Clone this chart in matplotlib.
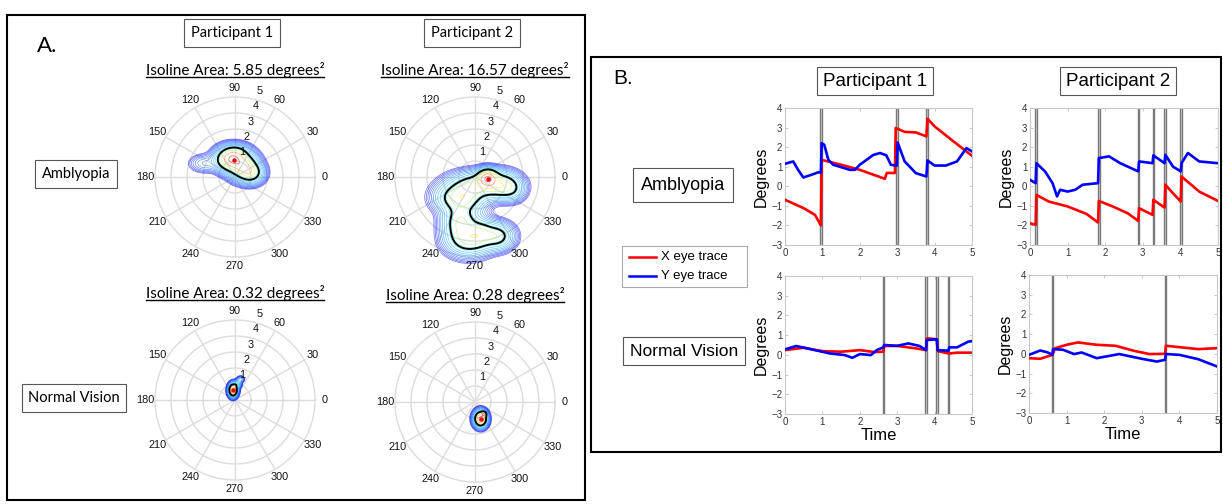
import numpy as np
import matplotlib
matplotlib.use('Agg')
import matplotlib.pyplot as plt
from matplotlib.patches import Rectangle
from matplotlib.lines import Line2D

# ---------------- data: panel A (gaze density blobs, degrees) ----------------
amb1_bx = [-0.3, 0.5, 1.0, 0.1, -1.9]
amb1_by = [1.1, 0.7, 0.25, 1.5, 0.85]
amb1_sx = [0.5, 0.5, 0.42, 0.45, 0.5]
amb1_sy = [0.4, 0.45, 0.35, 0.3, 0.3]
amb1_w = [1.0, 0.8, 0.5, 0.3, 0.08]

amb2_bx = [0.8, 0.3, -0.9, 1.7, 2.3, -0.9, -0.4, 1.4, 0.4]
amb2_by = [-0.05, -0.5, -1.3, -0.5, -0.8, -2.8, -3.9, -3.7, -3.5]
amb2_sx = [0.35, 1.0, 0.8, 0.6, 0.45, 0.6, 0.75, 0.55, 0.5]
amb2_sy = [0.3, 0.45, 0.5, 0.45, 0.4, 0.65, 0.55, 0.45, 0.5]
amb2_w = [1.0, 0.5, 0.55, 0.4, 0.15, 0.45, 0.45, 0.38, 0.3]

nor1_bx = [-0.12, 0.15, 0.35]
nor1_by = [0.62, 1.0, 1.3]
nor1_sx = [0.15, 0.13, 0.12]
nor1_sy = [0.22, 0.13, 0.1]
nor1_w = [1.0, 0.2, 0.1]

nor2_bx = [0.35, 0.55]
nor2_by = [-1.05, -0.75]
nor2_sx = [0.22, 0.1]
nor2_sy = [0.27, 0.1]
nor2_w = [1.0, 0.6]

area_titles = ["Isoline Area: 5.85 degrees\u00b2", "Isoline Area: 16.57 degrees\u00b2",
               "Isoline Area: 0.32 degrees\u00b2", "Isoline Area: 0.28 degrees\u00b2"]
angle_labels = list(range(0, 360, 30))
radial_labels = [1, 2, 3, 4, 5]

# ---------------- data: panel B (eye traces) ----------------
a1_tx = [0, 0.5, 0.8, 0.96, 0.98, 1.5, 2.0, 2.5, 2.67, 2.72, 2.94, 2.96, 3.2, 3.5, 3.78, 3.81, 4.0, 4.5, 5.0]
a1_vx = [-0.69, -1.12, -1.46, -2.0, 1.35, 1.1, 0.84, 0.5, 0.38, 0.68, 0.68, 2.98, 2.78, 2.75, 2.55, 3.45, 3.06, 2.3, 1.56]
a1_ty = [0, 0.22, 0.35, 0.49, 0.71, 0.9, 0.96, 0.98, 1.05, 1.16, 1.29, 1.73, 1.87, 2.0, 2.36, 2.54, 2.71, 2.83, 2.99, 3.01, 3.2, 3.5, 3.78, 3.81, 4.0, 4.3, 4.6, 4.85, 5.0]
a1_vy = [1.15, 1.27, 0.84, 0.45, 0.59, 0.72, 0.7, 2.2, 2.12, 1.35, 1.1, 0.84, 0.84, 1.1, 1.6, 1.7, 1.58, 1.1, 1.05, 2.24, 1.27, 0.67, 0.5, 1.32, 1.06, 1.06, 1.27, 1.95, 1.78]

a2_tx = [0, 0.15, 0.17, 0.5, 1.0, 1.5, 1.81, 1.83, 2.2, 2.6, 2.88, 2.9, 3.26, 3.28, 3.58, 3.6, 3.8, 4.01, 4.03, 4.5, 5.0]
a2_vx = [-1.89, -1.97, -0.44, -0.78, -1.03, -1.41, -1.85, -0.75, -1.03, -1.38, -1.77, -1.12, -1.46, -0.69, -1.09, 0.08, -0.35, -0.78, 0.5, -0.27, -0.75]
a2_ty = [0, 0.15, 0.17, 0.4, 0.6, 0.72, 0.8, 1.0, 1.2, 1.4, 1.81, 1.83, 2.1, 2.4, 2.88, 2.9, 3.26, 3.28, 3.58, 3.6, 3.8, 4.01, 4.03, 4.2, 4.5, 5.0]
a2_vy = [0.33, 0.16, 1.18, 0.76, 0.16, -0.52, -0.18, -0.27, -0.18, 0.08, 0.16, 1.44, 1.53, 1.18, 0.76, 1.27, 1.18, 1.58, 1.18, 1.61, 1.01, 0.76, 1.18, 1.7, 1.27, 1.18]

n1_tx = [0, 0.5, 1.0, 1.5, 2.0, 2.4, 2.63, 2.65, 3.0, 3.5, 3.77, 3.79, 4.06, 4.08, 4.38, 4.6, 5.0]
n1_vx = [0.24, 0.36, 0.19, 0.16, 0.24, 0.14, 0.16, 0.45, 0.45, 0.33, 0.24, 0.84, 0.79, 0.19, 0.07, 0.11, 0.11]
n1_ty = [0, 0.3, 0.8, 1.2, 1.6, 1.8, 2.0, 2.3, 2.45, 2.63, 2.65, 3.0, 3.3, 3.6, 3.77, 3.79, 4.06, 4.08, 4.37, 4.39, 4.6, 4.9, 5.0]
n1_vy = [0.28, 0.45, 0.24, 0.07, -0.01, -0.15, 0.04, -0.01, 0.24, 0.38, 0.5, 0.46, 0.58, 0.45, 0.24, 0.75, 0.79, 0.24, 0.21, 0.38, 0.38, 0.67, 0.7]

n2_tx = [0, 0.3, 0.62, 0.7, 1.0, 1.3, 1.8, 2.3, 2.8, 3.2, 3.62, 3.64, 4.0, 4.5, 5.0]
n2_vx = [-0.22, -0.25, -0.05, 0.29, 0.46, 0.58, 0.46, 0.41, 0.15, -0.01, 0.0, 0.41, 0.34, 0.24, 0.29]
n2_ty = [0, 0.3, 0.5, 0.62, 0.64, 0.9, 1.2, 1.4, 1.8, 2.4, 3.0, 3.4, 3.62, 3.64, 4.0, 4.5, 5.0]
n2_vy = [-0.05, 0.17, 0.07, -0.05, 0.24, 0.21, -0.01, 0.07, -0.22, -0.01, -0.25, -0.39, -0.30, -0.01, -0.05, -0.27, -0.64]

a1_sacc = [(0.93, 0.99), (2.97, 3.03), (3.78, 3.83)]
a2_sacc = [(0.13, 0.18), (1.81, 1.85), (2.87, 2.91), (3.26, 3.30), (3.57, 3.62), (3.99, 4.04)]
n1_sacc = [(2.62, 2.66), (3.75, 3.81), (4.05, 4.09), (4.36, 4.39)]
n2_sacc = [(0.62, 0.65), (3.62, 3.65)]

x_ticks = [0, 1, 2, 3, 4, 5]
y_ticks = [-3, -2, -1, 0, 1, 2, 3, 4]

# ---------------- figure ----------------
W, H = 1223, 504
fig = plt.figure(figsize=(W / 100, H / 100), dpi=100)
fig.patch.set_facecolor('white')

GILL = ['Lato', 'DejaVu Sans']
HELV = ['Liberation Sans', 'DejaVu Sans']


def fx(x):
    return x / W


def fy(y):
    return 1 - y / H


def ax_px(x0, y0, x1, y1, **kw):
    return fig.add_axes([x0 / W, 1 - y1 / H, (x1 - x0) / W, (y1 - y0) / H], **kw)


def rect_px(x0, y0, x1, y1, lw=1.5, ec='black'):
    fig.patches.append(Rectangle((fx(x0), fy(y1)), fx(x1) - fx(x0), fy(y0) - fy(y1),
                                 transform=fig.transFigure, fill=False, ec=ec, lw=lw))


def boxed(x, y, s, size, fam, pad=0.45):
    fig.text(fx(x), fy(y), s, ha='center', va='center', fontsize=size, family=fam,
             bbox=dict(boxstyle='square,pad=%s' % pad, fc='white', ec='#555555', lw=0.8))


# panel frames
rect_px(7, 15, 585, 500)
rect_px(591, 57, 1221, 452)

# ---------------- panel A ----------------
fig.text(fx(47), fy(46), "A.", ha='center', va='center', fontsize=16, family=GILL)
boxed(232, 33, "Participant 1", 10.5, GILL, pad=0.5)
boxed(472, 33, "Participant 2", 10.5, GILL, pad=0.5)
boxed(76, 174, "Amblyopia", 10.5, GILL)
boxed(74, 398, "Normal Vision", 10.5, GILL)

R = 80.0
S = R / 5.0


def polar_panel(cx, cy, bx, by, bsx, bsy, bw, black_frac, title, ty):
    ext = 6.2
    ax = ax_px(cx - ext * S, cy - ext * S, cx + ext * S, cy + ext * S)
    ax.set_xlim(-ext, ext)
    ax.set_ylim(-ext, ext)
    ax.axis('off')
    ax.patch.set_alpha(0)
    gcol = '#dcdcdc'
    th = np.linspace(0, 2 * np.pi, 361)
    for r in radial_labels:
        ax.plot(r * np.cos(th), r * np.sin(th), color=gcol, lw=1.0, zorder=1)
    for a in angle_labels:
        t = np.deg2rad(a)
        ax.plot([0, 5 * np.cos(t)], [0, 5 * np.sin(t)], color=gcol, lw=1.0, zorder=1)
        ax.text(5.58 * np.cos(t), 5.58 * np.sin(t), str(a), ha='center', va='center',
                fontsize=7.8, family=HELV, color='#111111', zorder=6)
    # density
    g = np.linspace(-ext, ext, 500)
    X, Y = np.meshgrid(g, g)
    Z = np.zeros_like(X)
    for x0, y0, sx, sy, w in zip(bx, by, bsx, bsy, bw):
        Z += w * np.exp(-((X - x0) ** 2 / (2 * sx ** 2) + (Y - y0) ** 2 / (2 * sy ** 2)))
    Z /= Z.max()
    levels = np.geomspace(0.008, 0.9, 15)
    lo = levels[levels < black_frac]
    hi = levels[levels > black_frac]
    ax.contour(X, Y, Z, levels=lo, colors=plt.cm.jet(np.linspace(0.1, 0.33, len(lo))),
               linewidths=0.55, alpha=0.55, zorder=3)
    ax.contour(X, Y, Z, levels=hi, colors=plt.cm.jet(np.linspace(0.4, 0.95, len(hi))),
               linewidths=0.55, alpha=0.55, zorder=3)
    ax.contour(X, Y, Z, levels=[black_frac], colors='black', linewidths=1.4, zorder=4)
    iy, ix = np.unravel_index(np.argmax(Z), Z.shape)
    ax.plot(X[iy, ix], Y[iy, ix], marker='o', ms=2.2, color='red', mec='red', zorder=5)
    for k in radial_labels:
        t = np.deg2rad(74)
        ax.text((k + 0.6) * np.cos(t), (k + 0.6) * np.sin(t), str(k), ha='center', va='center',
                fontsize=7.8, family=HELV, color='#111111', zorder=6)
    tt = fig.text(fx(cx), fy(ty), title, ha='center', va='center', fontsize=11, family=GILL)
    return tt


titles = []
titles.append(polar_panel(235, 177, amb1_bx, amb1_by, amb1_sx, amb1_sy, amb1_w, 0.25, area_titles[0], 70))
titles.append(polar_panel(475, 177, amb2_bx, amb2_by, amb2_sx, amb2_sy, amb2_w, 0.2, area_titles[1], 70))
titles.append(polar_panel(235, 400, nor1_bx, nor1_by, nor1_sx, nor1_sy, nor1_w, 0.3, area_titles[2], 293))
titles.append(polar_panel(475, 402, nor2_bx, nor2_by, nor2_sx, nor2_sy, nor2_w, 0.3, area_titles[3], 295))

# ---------------- panel B ----------------
fig.text(fx(623), fy(78), "B.", ha='center', va='center', fontsize=15, family=HELV)
boxed(875, 81, "Participant 1", 13.5, HELV, pad=0.3)
boxed(1118, 81, "Participant 2", 13.5, HELV, pad=0.3)
boxed(683, 185, "Amblyopia", 13, HELV, pad=0.45)
boxed(684, 351, "Normal Vision", 12.5, HELV, pad=0.4)

# legend
rect_px(622, 246, 747, 287, lw=0.8, ec='#aaaaaa')
fig.lines.append(Line2D([fx(629), fx(656)], [fy(257), fy(257)], color='red', lw=1.8, transform=fig.transFigure))
fig.lines.append(Line2D([fx(629), fx(656)], [fy(276), fy(276)], color='blue', lw=1.8, transform=fig.transFigure))
fig.text(fx(661), fy(257), "X eye trace", ha='left', va='center', fontsize=9.5, family=HELV)
fig.text(fx(661), fy(276), "Y eye trace", ha='left', va='center', fontsize=9.5, family=HELV)


def trace_panel(box, tx, vx, ty, vy, sacc, show_xlabel):
    ax = ax_px(*box)
    for a, b in sacc:
        ax.axvspan(a, b, color='#d8d8d8', lw=0, zorder=1)
        ax.axvline(a, color='#7a7a7a', lw=1.0, zorder=2)
        ax.axvline(b, color='#7a7a7a', lw=1.0, zorder=2)
    ax.plot(tx, vx, color='red', lw=1.9, zorder=3)
    ax.plot(ty, vy, color='blue', lw=1.9, zorder=4)
    ax.set_xlim(0, 5)
    ax.set_ylim(-3, 4)
    ax.set_xticks(x_ticks)
    ax.set_yticks(y_ticks)
    ax.tick_params(direction='in', length=2.5, width=0.6, labelsize=7, colors='#c0c0c0',
                   labelcolor='#333333', pad=2)
    for lab in ax.get_xticklabels() + ax.get_yticklabels():
        lab.set_family(HELV)
    ax.tick_params(top=True, right=True)
    for s in ax.spines.values():
        s.set_color('#c8c8c8')
        s.set_linewidth(0.8)
    ax.set_ylabel("Degrees", fontsize=11.5, family=HELV, labelpad=2)
    if show_xlabel:
        ax.set_xlabel("Time", fontsize=12, family=HELV, labelpad=1)
    return ax


trace_panel((785, 108, 972, 245), a1_tx, a1_vx, a1_ty, a1_vy, a1_sacc, False)
trace_panel((1030, 108, 1218, 245), a2_tx, a2_vx, a2_ty, a2_vy, a2_sacc, False)
trace_panel((785, 276, 972, 414), n1_tx, n1_vx, n1_ty, n1_vy, n1_sacc, True)
trace_panel((1029, 275, 1217, 413), n2_tx, n2_vx, n2_ty, n2_vy, n2_sacc, True)

# underline titles
fig.canvas.draw()
for t in titles:
    bb = t.get_window_extent()
    yb = bb.y0 + 1
    fig.lines.append(Line2D([bb.x0 / W, bb.x1 / W], [yb / H, yb / H], color='black', lw=1.0,
                            transform=fig.transFigure))

fig.savefig("out.png", dpi=100)
